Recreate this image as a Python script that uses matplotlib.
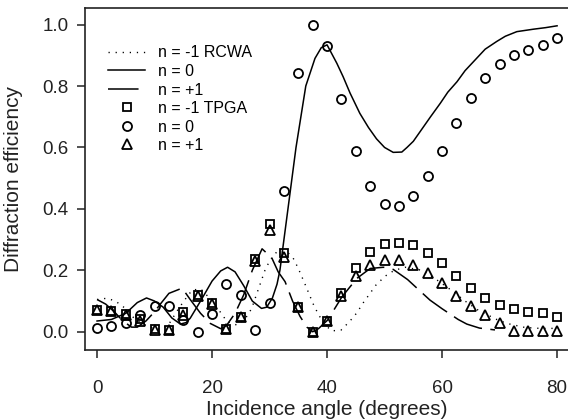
import matplotlib.pyplot as plt

# TPGA points (every 2.5 degrees)
ang_tpga = [0, 2.5, 5, 7.5, 10, 12.5, 15, 17.5, 20, 22.5, 25, 27.5, 30, 32.5, 35, 37.5,
            40, 42.5, 45, 47.5, 50, 52.5, 55, 57.5, 60, 62.5, 65, 67.5, 70, 72.5, 75, 77.5, 80]
tpga_m1 = [0.071, 0.069, 0.057, 0.042, 0.008, 0.006, 0.063, 0.12, 0.092, 0.009, 0.049, 0.236,
           0.35, 0.255, 0.081, 0.0, 0.036, 0.127, 0.206, 0.259, 0.285, 0.29, 0.283, 0.257,
           0.223, 0.181, 0.141, 0.109, 0.086, 0.073, 0.064, 0.06, 0.049]
tpga_0 = [0.013, 0.019, 0.03, 0.054, 0.084, 0.085, 0.038, 0.0, 0.057, 0.154, 0.12, 0.006,
          0.095, 0.458, 0.842, 1.0, 0.93, 0.757, 0.589, 0.475, 0.416, 0.41, 0.443, 0.508,
          0.59, 0.68, 0.761, 0.826, 0.872, 0.9, 0.918, 0.933, 0.955]
tpga_p1 = [0.07, 0.068, 0.054, 0.034, 0.006, 0.006, 0.056, 0.118, 0.089, 0.008, 0.047, 0.23,
           0.331, 0.242, 0.08, 0.0, 0.036, 0.116, 0.183, 0.216, 0.232, 0.232, 0.216, 0.192,
           0.158, 0.117, 0.084, 0.054, 0.029, 0.002, 0.002, 0.002, 0.002]

# RCWA curves
ang_m1 = [0, 1.7, 3.2, 5, 6.3, 8, 10, 11.2, 12.5, 14, 15.1, 16.5, 18, 19.9, 21.4, 22.6, 24.3,
          25.7, 26.9, 27.5, 28.1, 29.2, 30.1, 31.3, 33, 34.1, 35, 36.3, 37.6, 38.4, 39.5, 40.8,
          42.4, 43.9, 45.2, 46.2, 47.4, 48.5, 50.1, 51.7, 53.6, 56.5, 59, 61.4, 64, 66.3, 69.5,
          71.3, 74.4, 77, 80]
rcwa_m1 = [0.105, 0.109, 0.1, 0.075, 0.047, 0.025, 0.01, 0.008, 0.025, 0.07, 0.1, 0.135, 0.14,
           0.103, 0.065, 0.033, 0.022, 0.04, 0.076, 0.109, 0.141, 0.2, 0.234, 0.261, 0.261, 0.24,
           0.206, 0.149, 0.09, 0.06, 0.025, 0.003, 0.005, 0.033, 0.062, 0.092, 0.123, 0.152,
           0.181, 0.2, 0.21, 0.2, 0.17, 0.138, 0.1, 0.07, 0.04, 0.027, 0.014, 0.011, 0.011]

ang_0 = [0, 2.5, 5, 7, 8.6, 10, 11.5, 13, 14.5, 15.5, 16.2, 18, 20, 21.5, 22.7, 24, 25.5, 27,
         28.6, 29.5, 30.5, 31.3, 31.8, 33.2, 34.6, 36.3, 37.9, 39, 40, 41.7, 42.8, 44, 45.7,
         47.2, 48.6, 50, 51.5, 53, 53.9, 55, 56.8, 58, 59.7, 61, 62.6, 64, 66, 67.5, 69.5, 71,
         73, 75.9, 78, 80]
rcwa_0 = [0.035, 0.04, 0.06, 0.095, 0.11, 0.1, 0.08, 0.045, 0.025, 0.03, 0.044, 0.1, 0.165,
          0.198, 0.21, 0.195, 0.15, 0.1, 0.076, 0.08, 0.11, 0.155, 0.2, 0.4, 0.6, 0.8, 0.89,
          0.925, 0.934, 0.874, 0.83, 0.777, 0.711, 0.665, 0.628, 0.6, 0.584, 0.585, 0.6, 0.62,
          0.668, 0.7, 0.744, 0.78, 0.814, 0.85, 0.89, 0.92, 0.945, 0.962, 0.977, 0.985, 0.99,
          0.996]

ang_p1 = [0, 1.5, 3, 4.5, 6, 7, 8.5, 10, 11, 12.5, 14.8, 16.2, 18, 19.7, 21.5, 22.5, 24, 25.5,
          27, 28.7, 30.4, 31.5, 32.7, 34, 35.3, 36.5, 37.5, 38.5, 40.1, 42.6, 45.2, 47.5, 49.8,
          51.5, 54, 56.5, 57.9, 60, 62.8, 64.3, 66.5, 69.2]
rcwa_p1 = [0.105, 0.09, 0.065, 0.035, 0.015, 0.015, 0.035, 0.065, 0.09, 0.125, 0.142, 0.105,
           0.06, 0.027, 0.01, 0.02, 0.06, 0.12, 0.2, 0.27, 0.24, 0.195, 0.163, 0.1, 0.05,
           0.015, 0.0, 0.01, 0.038, 0.114, 0.174, 0.206, 0.21, 0.203, 0.17, 0.127, 0.103,
           0.075, 0.04, 0.025, 0.012, 0.006]

plt.rcParams['font.family'] = ['Liberation Sans', 'DejaVu Sans']

fig = plt.figure(figsize=(5.68, 4.19), dpi=100)
ax = fig.add_axes([0.1496, 0.1635, 0.8504, 0.8167])

k = 'black'
ax.plot(ang_m1, rcwa_m1, color=k, lw=1.0, dashes=(0.9, 4.2), label='n = -1 RCWA')
ax.plot(ang_0, rcwa_0, color=k, lw=1.1, label='n = 0')
ax.plot(ang_p1, rcwa_p1, color=k, lw=1.1, dashes=(20, 5.5), label='n = +1')
ax.plot(ang_tpga, tpga_m1, ls='none', marker='s', ms=6, mfc='none', mec=k, mew=1.3,
        label='n = -1 TPGA')
ax.plot(ang_tpga, tpga_0, ls='none', marker='o', ms=6.5, mfc='none', mec=k, mew=1.3,
        label='n = 0')
ax.plot(ang_tpga, tpga_p1, ls='none', marker='^', ms=6.5, mfc='none', mec=k, mew=1.3,
        label='n = +1')

ax.set_xlim(-2.1, 81.9)
ax.set_ylim(-0.061, 1.053)
ax.set_xticks([0, 20, 40, 60, 80])
ax.set_yticks([0.0, 0.2, 0.4, 0.6, 0.8, 1.0])
ax.set_yticklabels(['0.0', '0.2', '0.4', '0.6', '0.8', '1.0'])
ax.tick_params(direction='out', length=6, width=1.1, labelsize=13.5, colors='#222222')
ax.tick_params(axis='x', pad=15)
ax.tick_params(axis='y', pad=6)
ax.spines['right'].set_visible(False)
for s in ['left', 'bottom', 'top']:
    ax.spines[s].set_linewidth(1.2)
    ax.spines[s].set_color('#222222')

ax.set_xlabel('Incidence angle (degrees)', fontsize=15, color='#222222')
ax.set_ylabel('Diffraction efficiency', fontsize=15, color='#222222')
ax.xaxis.set_label_coords(0.5, -0.145)
ax.yaxis.set_label_coords(-0.128, 0.5)

ax.legend(loc='upper left', bbox_to_anchor=(0.035, 0.91), frameon=False, fontsize=11.5,
          handlelength=2.3, handletextpad=0.8, labelspacing=0.22, borderaxespad=0)

fig.savefig('out.png', dpi=100)
